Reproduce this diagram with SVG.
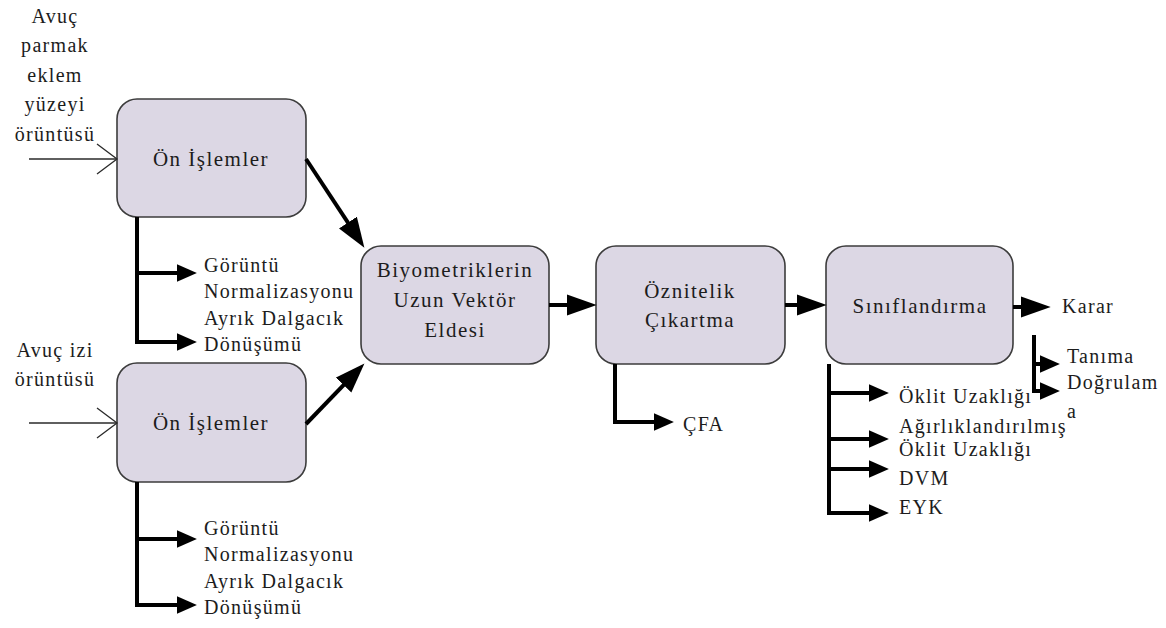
<svg xmlns="http://www.w3.org/2000/svg" width="1166" height="628" viewBox="0 0 1166 628" font-family="Liberation Serif, Times New Roman, Times, serif">
  <style>
    .box { fill: #dcd7e4; stroke: #3c3c3c; stroke-width: 1.6; }
    .t { font-size: 20px; fill: #1c1c1c; letter-spacing: 1.3px; }
    .bt { font-size: 21px; fill: #1c1c1c; letter-spacing: 1.5px; text-anchor: middle; }
    .mid { text-anchor: middle; }
    .thick { fill: none; stroke: #000; stroke-width: 4; stroke-linejoin: miter; }
    .thin { fill: none; stroke: #2a2a2a; stroke-width: 1.3; }
  </style>
  <defs>
    <marker id="big" markerUnits="userSpaceOnUse" markerWidth="30" markerHeight="22" refX="18" refY="10" orient="auto" viewBox="0 0 28 20">
      <path d="M0,0 L28,10 L0,20 Z" fill="#000"/>
    </marker>
    <marker id="small" markerUnits="userSpaceOnUse" markerWidth="20" markerHeight="18" refX="10" refY="8" orient="auto" viewBox="0 0 18 16">
      <path d="M0,0 L18,8 L0,16 Z" fill="#000"/>
    </marker>
  </defs>

  <!-- input labels -->
  <g id="input-top">
    <text class="t mid" x="55" y="23">Avuç</text>
    <text class="t mid" x="55" y="52">parmak</text>
    <text class="t mid" x="55" y="82">eklem</text>
    <text class="t mid" x="55" y="111">yüzeyi</text>
    <text class="t mid" x="55" y="141">örüntüsü</text>
  </g>
  <g id="input-bottom">
    <text class="t mid" x="55" y="357">Avuç izi</text>
    <text class="t mid" x="55" y="386">örüntüsü</text>
  </g>

  <!-- processing blocks -->
  <g id="on-islemler-1">
    <rect class="box" x="117" y="99" width="189" height="118" rx="20"/>
    <text class="bt" x="211" y="166">Ön İşlemler</text>
  </g>
  <g id="on-islemler-2">
    <rect class="box" x="117" y="363" width="189" height="119" rx="20"/>
    <text class="bt" x="211" y="430">Ön İşlemler</text>
  </g>
  <g id="uzun-vektor">
    <rect class="box" x="361" y="246" width="188" height="118" rx="20"/>
    <text class="bt" x="455" y="277">Biyometriklerin</text>
    <text class="bt" x="455" y="307">Uzun Vektör</text>
    <text class="bt" x="455" y="337">Eldesi</text>
  </g>
  <g id="oznitelik">
    <rect class="box" x="596" y="246" width="189" height="118" rx="20"/>
    <text class="bt" x="690" y="298">Öznitelik</text>
    <text class="bt" x="690" y="327">Çıkartma</text>
  </g>
  <g id="siniflandirma">
    <rect class="box" x="826" y="246" width="187" height="118" rx="20"/>
    <text class="bt" x="920" y="313">Sınıflandırma</text>
  </g>

  <!-- branch labels -->
  <g id="yontemler-1">
    <text class="t" x="204" y="272">Görüntü</text>
    <text class="t" x="204" y="298">Normalizasyonu</text>
    <text class="t" x="204" y="325">Ayrık Dalgacık</text>
    <text class="t" x="204" y="351">Dönüşümü</text>
  </g>
  <g id="yontemler-2">
    <text class="t" x="204" y="535">Görüntü</text>
    <text class="t" x="204" y="561">Normalizasyonu</text>
    <text class="t" x="204" y="588">Ayrık Dalgacık</text>
    <text class="t" x="204" y="614">Dönüşümü</text>
  </g>
  <g id="cfa">
    <text class="t" x="683" y="431">ÇFA</text>
  </g>
  <g id="siniflandiricilar">
    <text class="t" x="899" y="403">Öklit Uzaklığı</text>
    <text class="t" x="899" y="433">Ağırlıklandırılmış</text>
    <text class="t" x="899" y="456">Öklit Uzaklığı</text>
    <text class="t" x="899" y="485">DVM</text>
    <text class="t" x="899" y="514">EYK</text>
  </g>
  <g id="karar">
    <text class="t" x="1062" y="313">Karar</text>
    <text class="t" x="1067" y="363">Tanıma</text>
    <text class="t" x="1067" y="389">Doğrulam</text>
    <text class="t" x="1067" y="418">a</text>
  </g>

  <!-- connectors -->
  <g id="connectors">
    <!-- open-headed input arrows -->
    <line class="thin" x1="29" y1="159" x2="117" y2="159"/>
    <polyline class="thin" points="97,144 117,159 97,174"/>
    <line class="thin" x1="29" y1="423" x2="117" y2="423"/>
    <polyline class="thin" points="97,408 117,423 97,438"/>

    <!-- main flow -->
    <line class="thick" x1="306" y1="159" x2="358.5" y2="238.7" marker-end="url(#big)"/>
    <line class="thick" x1="306" y1="424" x2="357" y2="371.1" marker-end="url(#big)"/>
    <line class="thick" x1="549" y1="305" x2="586" y2="305" marker-end="url(#big)"/>
    <line class="thick" x1="785" y1="305" x2="816" y2="305" marker-end="url(#big)"/>
    <line class="thick" x1="1013" y1="307" x2="1040" y2="307" marker-end="url(#big)"/>

    <!-- pre-processing branches -->
    <polyline class="thick" points="137,217 137,342 188,342" marker-end="url(#small)"/>
    <line class="thick" x1="137" y1="273" x2="188" y2="273" marker-end="url(#small)"/>
    <polyline class="thick" points="137,482 137,605 188,605" marker-end="url(#small)"/>
    <line class="thick" x1="137" y1="539" x2="188" y2="539" marker-end="url(#small)"/>

    <!-- feature extraction branch -->
    <polyline class="thick" points="615,364 615,422 665,422" marker-end="url(#small)"/>

    <!-- classifier branches -->
    <polyline class="thick" points="829,364 829,513 880,513" marker-end="url(#small)"/>
    <line class="thick" x1="829" y1="393" x2="880" y2="393" marker-end="url(#small)"/>
    <line class="thick" x1="829" y1="439" x2="880" y2="439" marker-end="url(#small)"/>
    <line class="thick" x1="829" y1="469" x2="880" y2="469" marker-end="url(#small)"/>

    <!-- decision branches -->
    <polyline class="thick" points="1034,335 1034,391 1051,391" marker-end="url(#small)"/>
    <line class="thick" x1="1034" y1="364" x2="1051" y2="364" marker-end="url(#small)"/>
  </g>
</svg>
